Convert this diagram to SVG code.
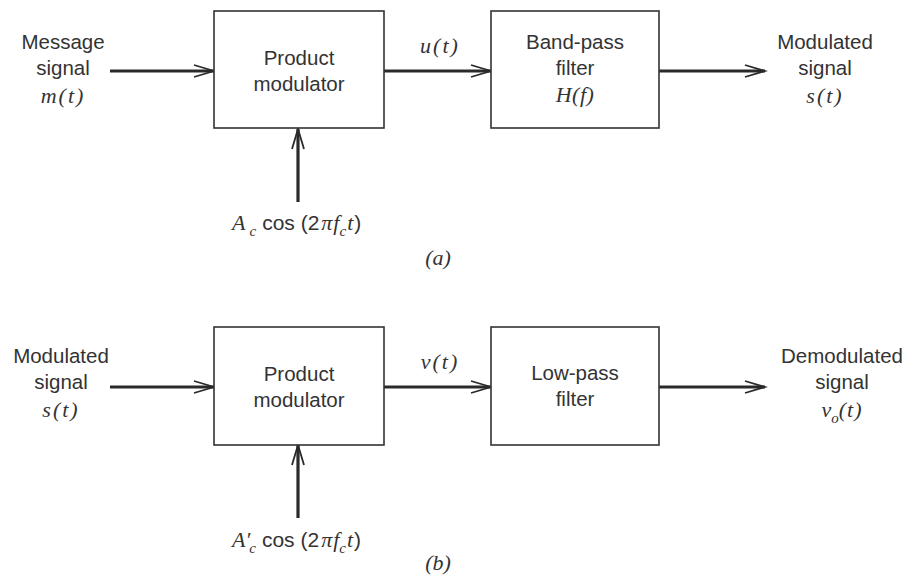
<svg xmlns="http://www.w3.org/2000/svg" width="924" height="576" viewBox="0 0 924 576">
<defs>
<style>
.box{fill:#fff;stroke:#333;stroke-width:1.6}
.ln{stroke:#2a2a2a;stroke-width:3.2;fill:none;marker-end:url(#ah)}
.t{font-family:"Liberation Sans",Arial,sans-serif;font-size:20.5px;fill:#333;text-anchor:middle}
.m{font-family:"Liberation Serif","Times New Roman",serif;font-style:italic;font-size:22px;fill:#333}
.ms{font-family:"Liberation Sans",Arial,sans-serif;font-style:normal;font-size:21px}
.sub{font-size:15px}
</style>
<marker id="ah" markerUnits="userSpaceOnUse" markerWidth="24" markerHeight="16" refX="21" refY="7" orient="auto" viewBox="0 0 24 16">
<path d="M1,1 L21,7 L1,13" fill="none" stroke="#2a2a2a" stroke-width="1.8"/>
</marker>
</defs>
<rect width="924" height="576" fill="#fff"/>

<g id="connectors">
<line class="ln" x1="110" y1="71" x2="214" y2="71"/>
<line class="ln" x1="384" y1="71" x2="491" y2="71"/>
<line class="ln" x1="659" y1="71" x2="765" y2="71"/>
<line class="ln" x1="298" y1="202" x2="298" y2="129"/>
<line class="ln" x1="110" y1="387" x2="214" y2="387"/>
<line class="ln" x1="384" y1="387" x2="491" y2="387"/>
<line class="ln" x1="659" y1="387" x2="765" y2="387"/>
<line class="ln" x1="298" y1="518" x2="298" y2="445"/>
</g>

<g id="pm-a">
<rect class="box" x="214" y="11" width="170" height="117"/>
<text class="t" x="299" y="65">Product</text>
<text class="t" x="299" y="91">modulator</text>
</g>
<g id="bpf">
<rect class="box" x="491" y="11" width="168" height="117"/>
<text class="t" x="575" y="49">Band-pass</text>
<text class="t" x="575" y="75">filter</text>
<text class="m" x="575" y="102" text-anchor="middle" letter-spacing="0.5">H(f)</text>
</g>
<g id="in-a">
<text class="t" x="63" y="49">Message</text>
<text class="t" x="63" y="75">signal</text>
<text class="m" x="63" y="103" text-anchor="middle" letter-spacing="2">m(t)</text>
</g>
<g id="out-a">
<text class="t" x="825" y="49">Modulated</text>
<text class="t" x="825" y="75">signal</text>
<text class="m" x="825" y="103" text-anchor="middle" letter-spacing="2">s(t)</text>
</g>
<g id="lbl-u">
<text class="m" x="440" y="53" text-anchor="middle" letter-spacing="2">u(t)</text>
</g>
<g id="carrier-a">
<text class="m" x="232" y="230">A<tspan class="sub" dx="4" dy="6">c</tspan><tspan class="ms" dy="-6" dx="6">cos (2</tspan><tspan dx="2">π</tspan><tspan dx="1">f</tspan><tspan class="sub" dy="6">c</tspan><tspan dy="-6" dx="1">t</tspan><tspan class="ms" dx="1">)</tspan></text>
</g>
<text class="m" x="438" y="265" text-anchor="middle">(a)</text>

<g id="pm-b">
<rect class="box" x="214" y="327" width="170" height="118"/>
<text class="t" x="299" y="381">Product</text>
<text class="t" x="299" y="407">modulator</text>
</g>
<g id="lpf">
<rect class="box" x="491" y="327" width="168" height="118"/>
<text class="t" x="575" y="380">Low-pass</text>
<text class="t" x="575" y="406">filter</text>
</g>
<g id="in-b">
<text class="t" x="61" y="363">Modulated</text>
<text class="t" x="61" y="389">signal</text>
<text class="m" x="61" y="417" text-anchor="middle" letter-spacing="2">s(t)</text>
</g>
<g id="out-b">
<text class="t" x="842" y="363">Demodulated</text>
<text class="t" x="842" y="389">signal</text>
<text class="m" x="842" y="417" text-anchor="middle">v<tspan class="sub" dy="6">o</tspan><tspan dy="-6" letter-spacing="1">(t)</tspan></text>
</g>
<g id="lbl-v">
<text class="m" x="440" y="369" text-anchor="middle" letter-spacing="2">v(t)</text>
</g>
<g id="carrier-b">
<text class="m" x="232" y="547">A′<tspan class="sub" dx="-1" dy="6">c</tspan><tspan class="ms" dy="-6" dx="6">cos (2</tspan><tspan dx="2">π</tspan><tspan dx="1">f</tspan><tspan class="sub" dy="6">c</tspan><tspan dy="-6" dx="1">t</tspan><tspan class="ms" dx="1">)</tspan></text>
</g>
<text class="m" x="438" y="570" text-anchor="middle">(b)</text>
</svg>
